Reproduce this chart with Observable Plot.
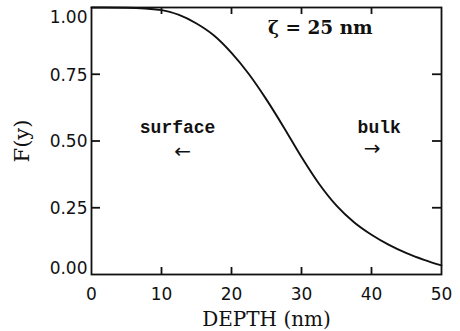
<!DOCTYPE html>
<html>
<head>
<meta charset="utf-8">
<script src="https://cdn.jsdelivr.net/npm/d3@7"></script>
<script src="https://cdn.jsdelivr.net/npm/@observablehq/plot@0.6"></script>
<style>
  html, body { margin: 0; padding: 0; background: #fff; }
  svg { display: block; }
</style>
</head>
<body>
<div id="chart"></div>
<script>
const depth = [0, 5, 10, 12.5, 15, 17.5, 20, 22.5, 25, 27.5, 30, 32.5, 35, 37.5, 40, 42.5, 45, 47.5, 50];
const F = [1.0, 0.999, 0.99, 0.972, 0.94, 0.895, 0.83, 0.75, 0.655, 0.55, 0.44, 0.34, 0.258, 0.196, 0.149, 0.111, 0.08, 0.055, 0.034];
const xTicks = [0, 10, 20, 30, 40, 50];
const yTicks = [0, 0.25, 0.5, 0.75, 1.0];
const yTickLabels = ["0.00", "0.25", "0.50", "0.75", "1.00"];
const xLabel = "DEPTH (nm)";
const yLabel = "F(y)";
const words = [
  {text: "surface", x: 12.3, y: 0.531},
  {text: "bulk", x: 41.1, y: 0.531}
];
const zeta = [{text: "ζ = 25 nm", x: 32.7, y: 0.901}];
const arrows = [
  {text: "←", x: 13.0, y: 0.460},
  {text: "→", x: 40.1, y: 0.470}
];

const curve = depth.map((d, i) => ({depth: d, F: F[i]}));
const sans = "DejaVu Sans";
const serif = "DejaVu Serif";
const ink = "#111";
const fmtY = (d) => yTickLabels[yTicks.indexOf(d)];
const yLabelStyle = {anchor: "left", tickSize: 0, tickPadding: 4, label: null, tickFormat: fmtY,
  fontFamily: sans, fontSize: 17, fill: ink, style: "letter-spacing:1.5px"};

// inward tick marks: rules of zero data length extended a few pixels by negative insets
const innerX = xTicks.slice(1, -1);
const innerY = yTicks.slice(1, -1);
const tk = {stroke: ink, strokeWidth: 1.8};

const plot = Plot.plot({
  width: 460,
  height: 331,
  marginLeft: 91,
  marginRight: 19,
  marginTop: 7,
  marginBottom: 57,
  style: {background: "#fff", color: ink},
  x: {domain: [0, 50]},
  y: {domain: [0, 1]},
  marks: [
    Plot.frame({stroke: ink, strokeWidth: 1.8}),
    // inward ticks on all four sides
    Plot.ruleX(innerX, {...tk, x: d => d, y1: () => 0, y2: () => 0, insetTop: -7}),
    Plot.ruleX(innerX, {...tk, x: d => d, y1: () => 1, y2: () => 1, insetBottom: -7}),
    Plot.ruleY(innerY, {...tk, y: d => d, x1: () => 0, x2: () => 0, insetRight: -9}),
    Plot.ruleY(innerY, {...tk, y: d => d, x1: () => 50, x2: () => 50, insetLeft: -9}),
    // tick labels
    Plot.axisX(xTicks, {anchor: "bottom", tickSize: 0, tickPadding: 13, label: null,
      fontFamily: sans, fontSize: 17, fill: ink, style: "letter-spacing:1.5px"}),
    Plot.axisY(innerY, {...yLabelStyle, dy: 1}),
    Plot.axisY([1.0], {...yLabelStyle, dy: 10}),
    Plot.axisY([0], {...yLabelStyle, dy: -6}),
    // curve
    Plot.line(curve, {x: "depth", y: "F", curve: "monotone-x", stroke: ink, strokeWidth: 1.9}),
    // annotations
    Plot.text(words, {x: "x", y: "y", text: "text", lineAnchor: "bottom",
      fontFamily: "Liberation Mono", fontSize: 18, fontWeight: "bold", fill: ink}),
    Plot.text(zeta, {x: "x", y: "y", text: "text", lineAnchor: "bottom",
      fontFamily: serif, fontSize: 18.5, fontWeight: "bold", fill: ink}),
    Plot.text(arrows, {x: "x", y: "y", text: "text", lineAnchor: "middle",
      fontFamily: sans, fontSize: 20, fill: ink}),
    // axis titles
    Plot.text([xLabel], {frameAnchor: "bottom", dy: 51, lineAnchor: "bottom", textAnchor: "middle", text: d => d,
      fontFamily: serif, fontSize: 20, fill: ink, style: "letter-spacing:2.5px"}),
    Plot.text([yLabel], {frameAnchor: "left", dx: -69, rotate: -90, lineAnchor: "middle", textAnchor: "middle", text: d => d,
      fontFamily: serif, fontSize: 21, fill: ink, style: "letter-spacing:1.5px"})
  ]
});
document.getElementById("chart").appendChild(plot);
</script>
</body>
</html>
